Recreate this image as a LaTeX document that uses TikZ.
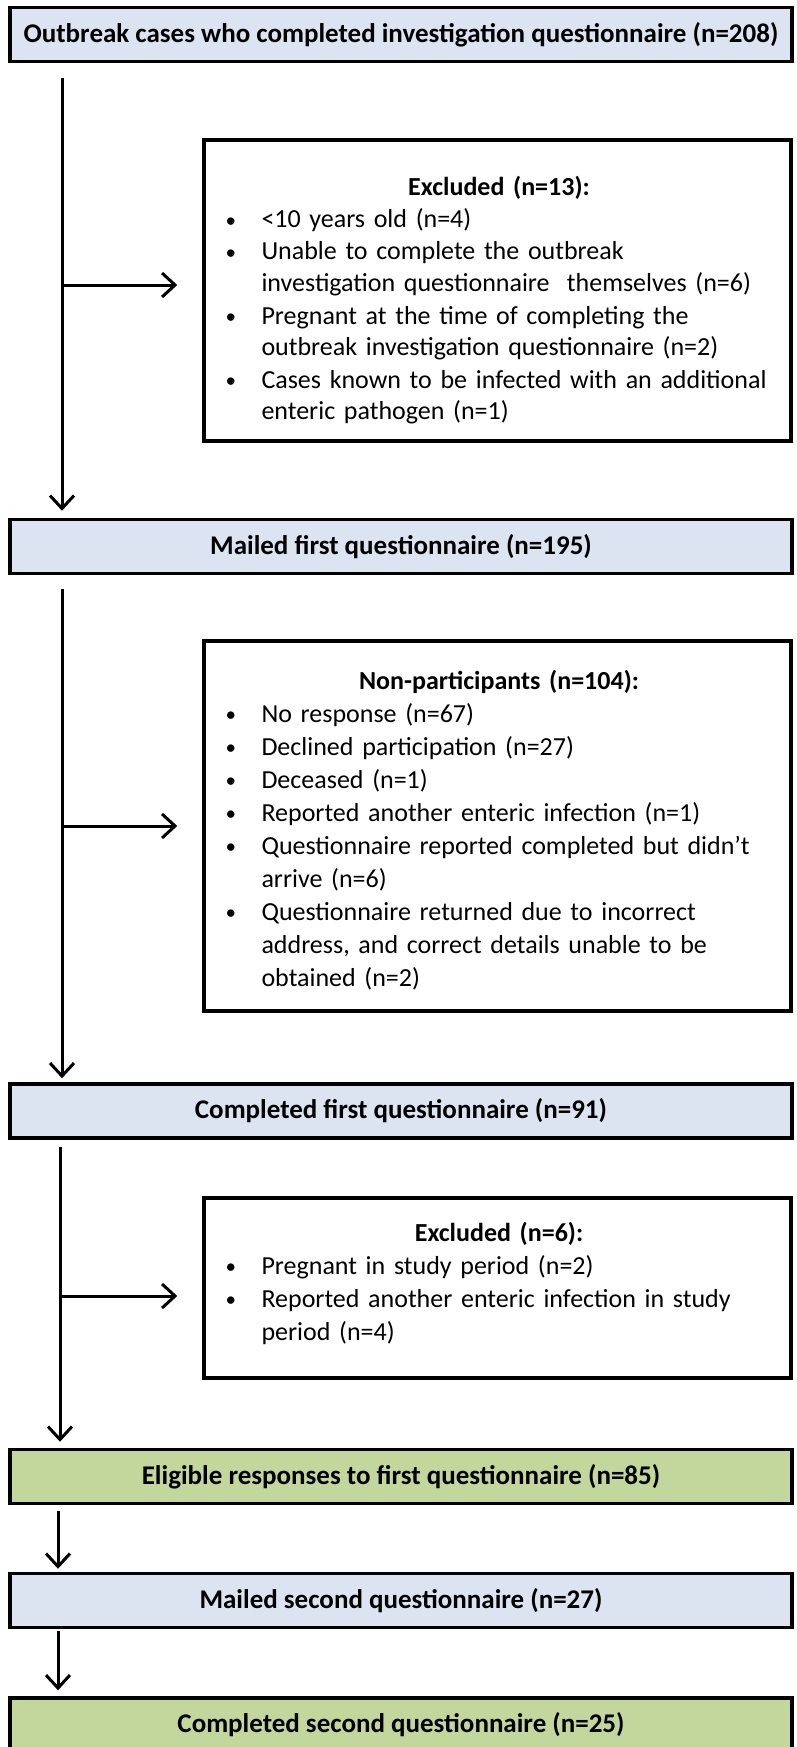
\documentclass[tikz,border=0pt]{standalone}
\usepackage{fontspec}
\setmainfont{Carlito}
\usetikzlibrary{arrows.meta}
\definecolor{boxblue}{HTML}{DCE4F2}
\definecolor{boxgreen}{HTML}{C3D69B}
% bullet line and its continuation
\newcommand{\bfirst}[1]{\par\noindent\makebox[36pt][l]{\raisebox{0.5pt}{\fontsize{21}{21}\selectfont\textbullet}}\mbox{#1}}
\newcommand{\bmore}[1]{\par\noindent\hspace*{36pt}\mbox{#1}}

\begin{document}
\begin{tikzpicture}[x=1pt, y=-1pt, line width=3pt,
  >={Straight Barb[length=13pt, width=24pt]},
  mainbox/.style={draw, line width=3.5pt, minimum width=782pt, minimum height=54pt,
    inner sep=0pt, font=\fontsize{27}{32}\selectfont\bfseries},
  sidebox/.style={draw, line width=3.5pt, minimum width=587pt},
  sidetext/.style={anchor=base west, inner sep=0pt, text width=547pt, align=left,
    font=\fontsize{26}{33}\selectfont}]
\useasboundingbox (0,0) rectangle (796,1747);

% main column
\node[mainbox, fill=boxblue] (cases) at (401,34.5) {Outbreak cases who completed investigation questionnaire (n=208)};
\node[mainbox, fill=boxblue] (mailed1) at (401,546.5) {Mailed first questionnaire (n=195)};
\node[mainbox, fill=boxblue] (compl1) at (401,1111) {Completed first questionnaire (n=91)};
\node[mainbox, fill=boxgreen] (elig) at (401,1476.5) {Eligible responses to first questionnaire (n=85)};
\node[mainbox, fill=boxblue] (mailed2) at (401,1600.5) {Mailed second questionnaire (n=27)};
\node[mainbox, fill=boxgreen] (compl2) at (401,1725) {Completed second questionnaire (n=25)};

% side boxes
\node[sidebox, minimum height=301pt] (excl1) at (497.5,290.5) {};
\node[sidebox, minimum height=370pt] (nonpart) at (497.5,826) {};
\node[sidebox, minimum height=180pt] (excl2) at (497.5,1288) {};

\node[sidetext, font=\fontsize{26}{32}\selectfont] (excl1txt) at (224,196) {%
  \centerline{\bfseries Excluded (n=13):}
  \bfirst{<10 years old (n=4)}
  \bfirst{Unable to complete the outbreak}
  \bmore{investigation questionnaire\ \ themselves (n=6)}
  \bfirst{Pregnant at the time of completing the}
  \bmore{outbreak investigation questionnaire (n=2)}
  \bfirst{Cases known to be infected with an additional}
  \bmore{enteric pathogen (n=1)}};
\node[sidetext] (nonparttxt) at (224,689) {%
  \centerline{\bfseries Non-participants (n=104):}
  \bfirst{No response (n=67)}
  \bfirst{Declined participation (n=27)}
  \bfirst{Deceased (n=1)}
  \bfirst{Reported another enteric infection (n=1)}
  \bfirst{Questionnaire reported completed but didn’t}
  \bmore{arrive (n=6)}
  \bfirst{Questionnaire returned due to incorrect}
  \bmore{address, and correct details unable to be}
  \bmore{obtained (n=2)}};
\node[sidetext] (excl2txt) at (224,1241) {%
  \centerline{\bfseries Excluded (n=6):}
  \bfirst{Pregnant in study period (n=2)}
  \bfirst{Reported another enteric infection in study}
  \bmore{period (n=4)}};

% trunk
\coordinate (ta) at (62,0);
\coordinate (tb) at (60,0);
\coordinate (tc) at (58,0);
\coordinate (j1) at (62,285);
\coordinate (j2) at (62,826);
\coordinate (j3) at (60,1296);
\draw[->, shorten <=15pt, shorten >=7pt] (cases.south -| ta) -- (mailed1.north -| ta);
\draw[->, shorten <=14pt, shorten >=4pt] (mailed1.south -| ta) -- (compl1.north -| ta);
\draw[->, shorten <=7pt, shorten >=6pt] (compl1.south -| tb) -- (elig.north -| tb);
\draw[->, shorten <=6pt, shorten >=3pt] (elig.south -| tc) -- (mailed2.north -| tc);
\draw[->, shorten <=2pt, shorten >=6pt] (mailed2.south -| tc) -- (compl2.north -| tc);

% branches
\draw[->, shorten >=25pt] (j1) -- (j1 -| excl1.west);
\draw[->, shorten >=25pt] (j2) -- (j2 -| nonpart.west);
\draw[->, shorten >=25pt] (j3) -- (j3 -| excl2.west);
\end{tikzpicture}
\end{document}
